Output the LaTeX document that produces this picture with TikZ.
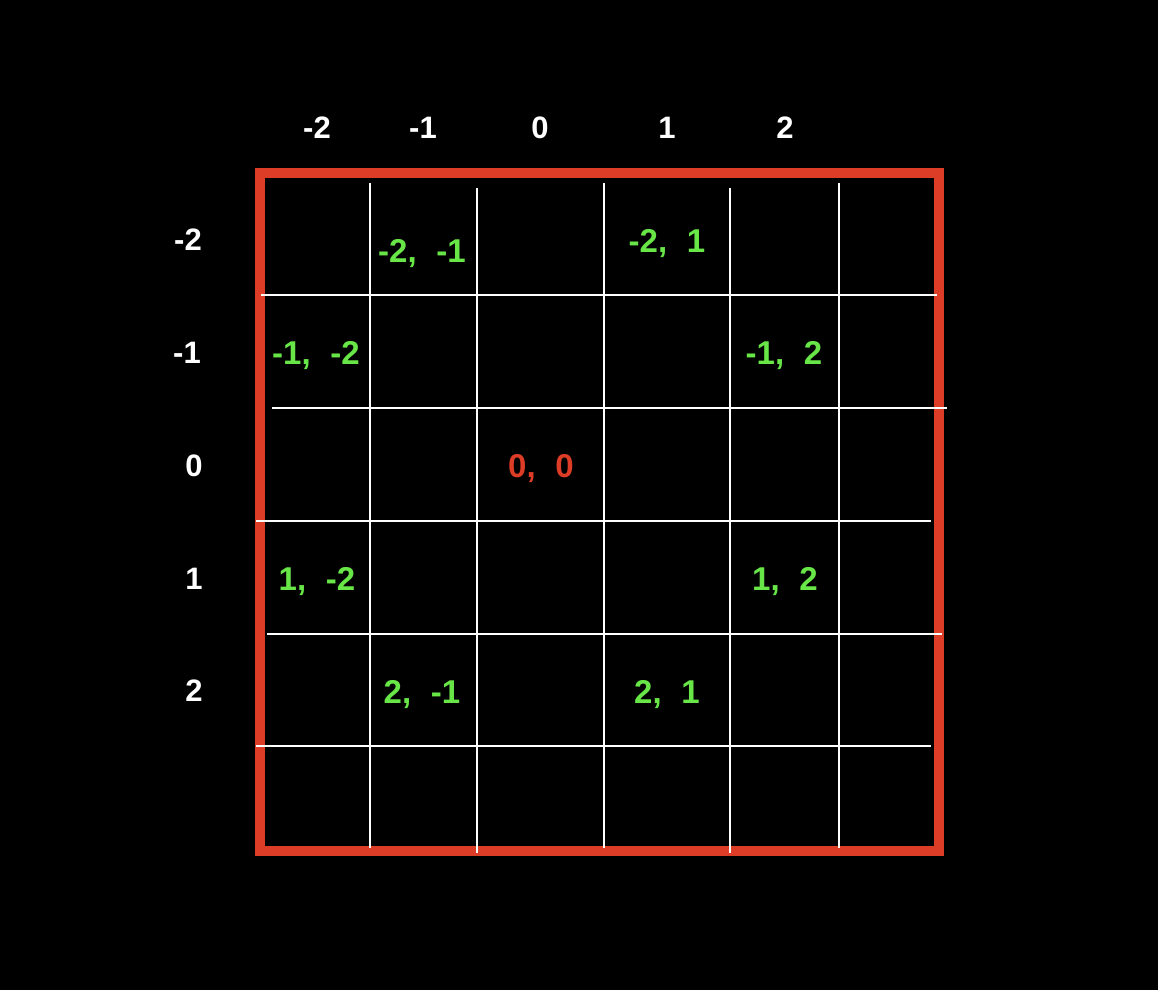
\documentclass[tikz,border=0pt]{standalone}
\usepackage{fontspec}
\setmainfont{Liberation Sans}
\definecolor{bordred}{RGB}{221,60,38}
\definecolor{lblgreen}{RGB}{104,230,72}
\tikzset{
  px/.style={x=1pt,y=-1pt},
  gridline/.style={draw=white,line width=2pt},
  hdr/.style={text=white,font=\fontsize{31}{31}\selectfont\bfseries,inner sep=0pt,anchor=center},
  cell/.style={text=lblgreen,font=\fontsize{33}{33}\selectfont\bfseries,inner sep=0pt,anchor=base},
  origin/.style={cell,text=bordred}
}
\newcommand{\gp}{\hspace{0.6em}}
\begin{document}
\begin{tikzpicture}[px]
\useasboundingbox (0,0) rectangle (1158,990);
\fill[black] (0,0) rectangle (1158,990);
% red border
\draw[bordred,line width=10pt] (259.5,173) rectangle (938.5,851);
% vertical grid lines
\coordinate (v1a) at (370,183); \coordinate (v1b) at (370,848);
\coordinate (v2a) at (477,188); \coordinate (v2b) at (477,853);
\coordinate (v3a) at (604,183); \coordinate (v3b) at (604,848);
\coordinate (v4a) at (730,188); \coordinate (v4b) at (730,853);
\coordinate (v5a) at (839,183); \coordinate (v5b) at (839,848);
\draw[gridline] (v1a) -- (v1b);
\draw[gridline] (v2a) -- (v2b);
\draw[gridline] (v3a) -- (v3b);
\draw[gridline] (v4a) -- (v4b);
\draw[gridline] (v5a) -- (v5b);
% horizontal grid lines
\coordinate (h1a) at (261,295); \coordinate (h1b) at (937,295);
\coordinate (h2a) at (272,408); \coordinate (h2b) at (947,408);
\coordinate (h3a) at (256,521); \coordinate (h3b) at (931,521);
\coordinate (h4a) at (267,634); \coordinate (h4b) at (942,634);
\coordinate (h5a) at (256,746); \coordinate (h5b) at (931,746);
\draw[gridline] (h1a) -- (h1b);
\draw[gridline] (h2a) -- (h2b);
\draw[gridline] (h3a) -- (h3b);
\draw[gridline] (h4a) -- (h4b);
\draw[gridline] (h5a) -- (h5b);
% column headers
\node[hdr] (cm2) at (317,128) {-2};
\node[hdr] (cm1) at (423,128) {-1};
\node[hdr] (c0) at (540,128) {0};
\node[hdr] (c1) at (667,128) {1};
\node[hdr] (c2) at (785,128) {2};
% row headers
\node[hdr] (rm2) at (188,240) {-2};
\node[hdr] (rm1) at (187,353) {-1};
\node[hdr] (r0) at (194,466) {0};
\node[hdr] (r1) at (194,579) {1};
\node[hdr] (r2) at (194,691) {2};
% cell labels (anchored at baseline)
\node[cell] (a) at (422,262) {-2,\gp-1};
\node[cell] (b) at (667,252) {-2,\gp1};
\node[cell] (c) at (316,364) {-1,\gp-2};
\node[cell] (d) at (784,364) {-1,\gp2};
\node[origin] (o) at (541,477) {0,\gp0};
\node[cell] (e) at (317,590) {1,\gp-2};
\node[cell] (f) at (785,590) {1,\gp2};
\node[cell] (g) at (422,703) {2,\gp-1};
\node[cell] (h) at (667,703) {2,\gp1};
\end{tikzpicture}
\end{document}
